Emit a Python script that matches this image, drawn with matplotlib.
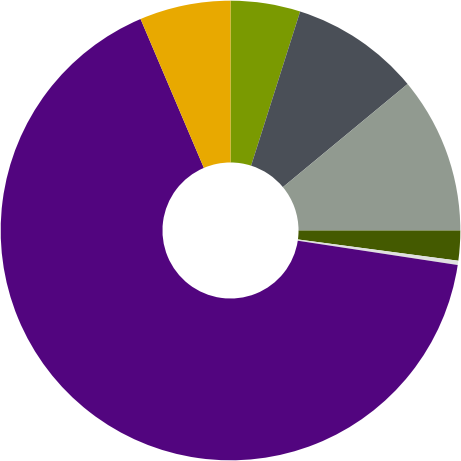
import matplotlib
matplotlib.use("Agg")
import matplotlib.pyplot as plt

labels = ["A", "B", "C", "D", "E", "F", "G"]
values = [4.9, 9.1, 11.0, 2.1, 0.3, 66.2, 6.4]
colors = ["#7a9a01", "#4a4f57", "#919a90", "#445a00", "#e0e0e0", "#52057f", "#e8a900"]

fig = plt.figure(figsize=(4.61, 4.61), dpi=100)
ax = fig.add_axes([0, 0, 1, 1])
ax.pie(values, colors=colors, startangle=90, counterclock=False,
       radius=1.0, wedgeprops=dict(width=0.704, linewidth=0))
ax.set_xlim(-1.003, 1.003)
ax.set_ylim(-1.003, 1.003)
ax.set_aspect("equal")
ax.axis("off")
fig.savefig("out.png", dpi=100)
